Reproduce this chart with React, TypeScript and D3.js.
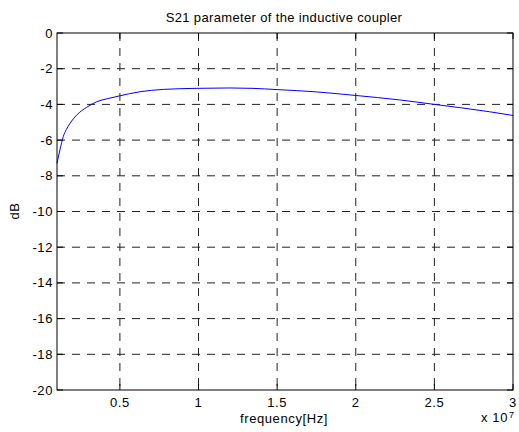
import React from "react";
import * as d3 from "d3";

const freqMHz = [1.0, 1.2, 1.4, 1.6, 1.83, 2.25, 2.89, 3.53, 4.2, 4.94, 6.28, 7.76, 9.9, 12, 13.4, 15, 17.5, 20, 22.8, 25, 28.5, 30];
const s21dB = [-7.3, -6.5, -5.8, -5.4, -5.06, -4.6, -4.16, -3.85, -3.68, -3.53, -3.29, -3.16, -3.1, -3.08, -3.1, -3.17, -3.3, -3.5, -3.75, -4.0, -4.41, -4.62];
const xTicks = [0.5e7, 1e7, 1.5e7, 2e7, 2.5e7, 3e7];
const xTickLabels = ["0.5", "1", "1.5", "2", "2.5", "3"];
const yTicks = [0, -2, -4, -6, -8, -10, -12, -14, -16, -18, -20];

const W = 519, H = 432;
const L = 57, R = 513, T = 33, B = 390;
const font = "'Liberation Sans', Arial, Helvetica, sans-serif";
const ls = 0.6;

export default function App() {
  const x = d3.scaleLinear().domain([1e6, 3e7]).range([L, R]);
  const y = d3.scaleLinear().domain([-20, 0]).range([B, T]);
  const pts = freqMHz.map((f, i) => [f * 1e6, s21dB[i]] as [number, number]);
  const line = d3.line<[number, number]>().x(d => x(d[0])).y(d => y(d[1])).curve(d3.curveMonotoneX);
  return (
    <svg width={W} height={H} style={{ position: "absolute", left: 0, top: 0, background: "#fff" }} fontFamily={font}>
      <rect x={0} y={0} width={W} height={H} fill="#fff" />
      {/* grid */}
      {xTicks.slice(0, -1).map(t => (
        <line key={"gx" + t} x1={x(t)} x2={x(t)} y1={T} y2={B} stroke="#222" strokeWidth={1} strokeDasharray="8,7" />
      ))}
      {yTicks.slice(1, -1).map(t => (
        <line key={"gy" + t} x1={L} x2={R} y1={y(t)} y2={y(t)} stroke="#222" strokeWidth={1} strokeDasharray="8,7" />
      ))}
      {/* ticks */}
      {xTicks.map(t => (
        <g key={"tx" + t}>
          <line x1={x(t)} x2={x(t)} y1={B} y2={B - 6} stroke="#000" />
          <line x1={x(t)} x2={x(t)} y1={T} y2={T + 6} stroke="#000" />
        </g>
      ))}
      {yTicks.map(t => (
        <g key={"ty" + t}>
          <line x1={L} x2={L + 6} y1={y(t)} y2={y(t)} stroke="#000" />
          <line x1={R} x2={R - 6} y1={y(t)} y2={y(t)} stroke="#000" />
        </g>
      ))}
      {/* curve */}
      <path d={line(pts) || ""} fill="none" stroke="#0000ff" strokeWidth={1} />
      {/* box */}
      <rect x={L} y={T} width={R - L} height={B - T} fill="none" stroke="#000" strokeWidth={1} />
      {/* labels */}
      {yTicks.map(t => (
        <text key={"ly" + t} x={L - 4} y={y(t) + 4.5} fontSize={13} letterSpacing={ls} textAnchor="end" fill="#000">{t}</text>
      ))}
      {xTicks.map((t, i) => (
        <text key={"lx" + t} x={x(t)} y={407} fontSize={13} letterSpacing={ls} textAnchor="middle" fill="#000">{xTickLabels[i]}</text>
      ))}
      <text x={481} y={422} fontSize={13} letterSpacing={ls} fill="#000">x 10</text>
      <text x={509} y={418} fontSize={9} fill="#000">7</text>
      <text x={284} y={423} fontSize={13} letterSpacing={ls} textAnchor="middle" fill="#000">frequency[Hz]</text>
      <text x={284} y={22} fontSize={13} letterSpacing={0.35} textAnchor="middle" fill="#000">S21 parameter of the inductive coupler</text>
      <text transform="translate(19,211) rotate(-90)" fontSize={13} letterSpacing={ls} textAnchor="middle" fill="#000">dB</text>
    </svg>
  );
}
